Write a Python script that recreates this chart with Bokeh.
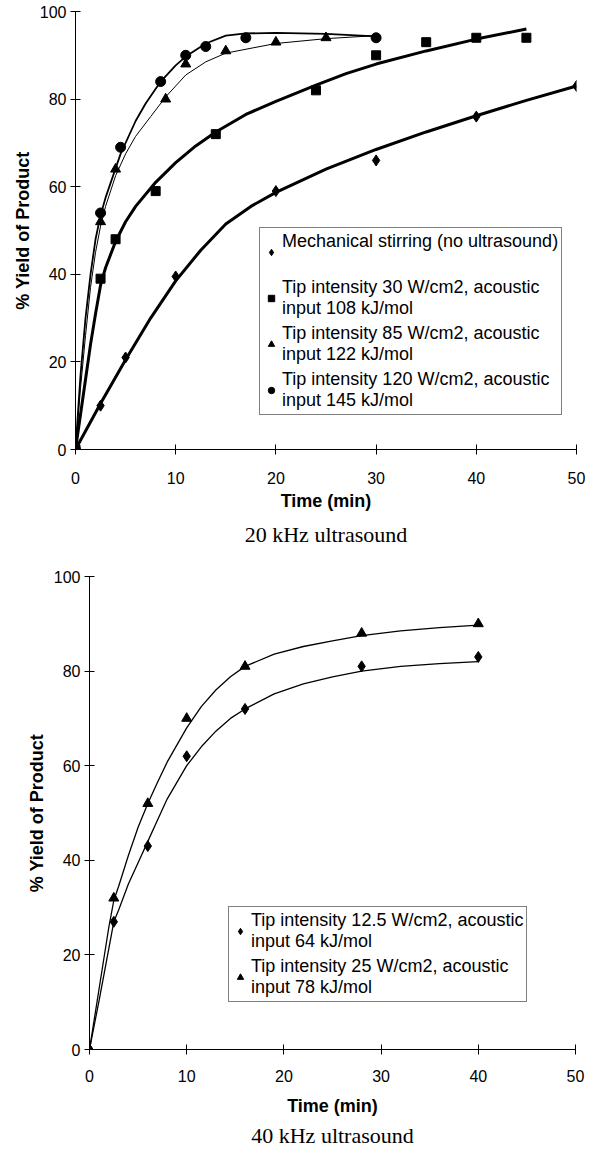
from bokeh.plotting import figure
from bokeh.models import Range1d, Legend, LegendItem, Title, FixedTicker
from bokeh.layouts import column
from bokeh.embed import file_html
from bokeh.resources import INLINE

# ---------------- 20 kHz chart (top) ----------------
x_ticks = [0, 10, 20, 30, 40, 50]
y_ticks = [0, 20, 40, 60, 80, 100]

mech_t = [0, 2.5, 5, 10, 20, 30, 40, 50]
mech_y = [0, 10, 21, 39.5, 59, 66, 76, 83]
tip30_t = [0, 2.5, 4, 8, 14, 24, 30, 35, 40, 45]
tip30_y = [0, 39, 48, 59, 72, 82, 90, 93, 94, 94]
tip85_t = [0, 2.5, 4, 9, 11, 15, 20, 25]
tip85_y = [0, 52, 64, 80, 88, 91, 93, 94]
tip120_t = [0, 2.5, 4.5, 8.5, 11, 13, 17, 30]
tip120_y = [0, 54, 69, 84, 90, 92, 94, 94]

# trend curves
mech_fit_t = [0, 2.5, 5, 7.5, 10, 12.5, 15, 17.5, 20, 25, 30, 35, 40, 45, 50]
mech_fit_y = [0, 10.5, 20.5, 30, 38.5, 45.5, 51.5, 55.5, 58.7, 64, 68.5, 72.5, 76.2, 79.7, 83]
tip30_fit_t = [0, 0.5, 1, 1.5, 2, 2.5, 3, 4, 5, 6, 8, 10, 12, 14, 17, 20, 24, 27, 30, 35, 40, 45]
tip30_fit_y = [0, 8, 16, 24, 31, 37.5, 41.5, 47.5, 52, 55.5, 61, 65.5, 69.3, 72.5, 76.5, 79.5,
               83.2, 85.8, 88, 91, 93.7, 96]
tip85_fit_t = [0, 0.5, 1, 1.5, 2, 2.5, 3, 4, 5, 6, 7.5, 9, 11, 13, 15, 20, 25, 30]
tip85_fit_y = [0, 14, 26, 37, 45, 51, 55.5, 62.5, 67.5, 71.5, 76, 80.5, 85.5, 88.5, 90.5,
               92.7, 93.8, 94.5]
tip120_fit_t = [0, 0.5, 1, 1.5, 2, 2.5, 3, 4.5, 6, 7, 8.5, 10, 11, 13, 15, 17, 20, 25, 30]
tip120_fit_y = [0, 17, 30, 40, 48, 53.5, 57.5, 67.5, 75, 79, 84, 87.7, 89.7, 92.7, 94.5, 95,
                95.1, 94.9, 94.3]

top_labels = [
    "Mechanical stirring (no ultrasound)\n ",
    "Tip intensity 30 W/cm2, acoustic\ninput 108 kJ/mol",
    "Tip intensity 85 W/cm2, acoustic\ninput 122 kJ/mol",
    "Tip intensity 120 W/cm2, acoustic\ninput 145 kJ/mol",
]

# ---------------- 40 kHz chart (bottom) ----------------
b125_t = [0, 2.5, 6, 10, 16, 28, 40]
b125_y = [0, 27, 43, 62, 72, 81, 83]
b25_t = [0, 2.5, 6, 10, 16, 28, 40]
b25_y = [0, 32, 52, 70, 81, 88, 90]

b125_fit_t = [0, 1, 2, 2.5, 3, 4, 5, 6, 7, 8, 10, 11.5, 13, 14.5, 16, 19, 22, 25, 28, 32, 36, 40]
b125_fit_y = [0, 10.5, 21.5, 27, 29.5, 35, 39.5, 44, 48.5, 53, 60, 64, 67.3, 70, 72, 75.2,
              77.3, 78.8, 80, 81, 81.6, 82]
b25_fit_t = [0, 1, 2, 2.5, 3, 4, 5, 6, 7, 8, 10, 11.5, 13, 14.5, 16, 19, 22, 25, 28, 32, 36, 40]
b25_fit_y = [0, 13, 26, 31.5, 34.5, 41, 47, 52, 56.5, 60.8, 68, 72.5, 76, 78.8, 81, 83.6,
             85.2, 86.4, 87.5, 88.5, 89.2, 89.7]

bottom_labels = [
    "Tip intensity 12.5 W/cm2, acoustic\ninput 64 kJ/mol",
    "Tip intensity 25 W/cm2, acoustic\ninput 78 kJ/mol",
]

SANS = "Liberation Sans"
SERIF = "Liberation Serif"


def style(p, caption, lab_standoff, ax_standoff, cap_standoff):
    try:
        p.frame_align = False
    except Exception:
        pass
    p.x_range = Range1d(0, 50)
    p.y_range = Range1d(0, 100)
    p.xaxis.ticker = FixedTicker(ticks=x_ticks)
    p.yaxis.ticker = FixedTicker(ticks=y_ticks)
    for ax in (p.xaxis, p.yaxis):
        ax.major_tick_in = 5
        ax.major_tick_out = 5
        ax.minor_tick_line_color = None
        ax.axis_line_color = "black"
        ax.major_tick_line_color = "black"
        ax.major_label_text_font = SANS
        ax.major_label_text_font_size = "16px"
        ax.major_label_text_color = "black"
        ax.axis_label_text_font = SANS
        ax.axis_label_text_font_size = "18px"
        ax.axis_label_text_font_style = "bold"
        ax.axis_label_text_color = "black"
    p.xaxis.axis_label = "Time (min)"
    p.yaxis.axis_label = "% Yield of Product"
    p.xaxis.major_label_standoff = lab_standoff
    p.yaxis.major_label_standoff = 4
    p.xaxis.axis_label_standoff = ax_standoff
    p.yaxis.axis_label_standoff = 4
    p.xgrid.visible = False
    p.ygrid.visible = False
    p.outline_line_color = None
    p.background_fill_color = "white"
    p.border_fill_color = "white"
    t = Title(text=caption, align="center", text_font=SERIF,
              text_font_size="22px", text_font_style="normal",
              text_color="black", standoff=cap_standoff)
    p.add_layout(t, "below")


def legend_style(lg):
    lg.label_text_font = SANS
    lg.label_text_font_size = "18px"
    lg.label_text_color = "black"
    lg.label_text_line_height = 1.06
    lg.glyph_width = 16
    lg.glyph_height = 20
    lg.label_standoff = 3
    lg.padding = 3
    lg.spacing = 4
    lg.margin = 0
    lg.border_line_color = "black"
    lg.border_line_width = 1
    lg.background_fill_color = "white"
    lg.background_fill_alpha = 1.0


# ---- top figure ----
p1 = figure(width=587, height=554, output_backend="svg", toolbar_location=None,
            min_border_left=75, min_border_right=11, min_border_top=11,
            min_border_bottom=105)
style(p1, "20 kHz ultrasound", 17, 4, 12)

p1.line(mech_fit_t, mech_fit_y, line_color="black", line_width=3)
p1.line(tip30_fit_t, tip30_fit_y, line_color="black", line_width=3)
p1.line(tip85_fit_t, tip85_fit_y, line_color="black", line_width=1)
p1.line(tip120_fit_t, tip120_fit_y, line_color="black", line_width=1.8)

r_m = p1.scatter(mech_t, mech_y, marker="diamond", size=11, color="black")
r_s = p1.scatter(tip30_t, tip30_y, marker="square", size=9, color="black")
r_t = p1.scatter(tip85_t, tip85_y, marker="triangle", size=10, color="black")
r_c = p1.scatter(tip120_t, tip120_y, marker="circle", size=10, color="black")

lg1 = Legend(items=[LegendItem(label=top_labels[0], renderers=[r_m]),
                    LegendItem(label=top_labels[1], renderers=[r_s]),
                    LegendItem(label=top_labels[2], renderers=[r_t]),
                    LegendItem(label=top_labels[3], renderers=[r_c])],
             location=(184, 34))
legend_style(lg1)
p1.add_layout(lg1)

# ---- bottom figure ----
p2 = figure(width=587, height=595, output_backend="svg", toolbar_location=None,
            min_border_left=89, min_border_right=12, min_border_top=22,
            min_border_bottom=99)
style(p2, "40 kHz ultrasound", 15, 11, 4)

p2.line(b125_fit_t, b125_fit_y, line_color="black", line_width=1.3)
p2.line(b25_fit_t, b25_fit_y, line_color="black", line_width=1.3)
r_d = p2.scatter(b125_t, b125_y, marker="diamond", size=11, color="black")
r_tr = p2.scatter(b25_t, b25_y, marker="triangle", size=10, color="black")

lg2 = Legend(items=[LegendItem(label=bottom_labels[0], renderers=[r_d]),
                    LegendItem(label=bottom_labels[1], renderers=[r_tr])],
             location=(139, 47))
legend_style(lg2)
p2.add_layout(lg2)

layout = column(p1, p2, spacing=0)
open("out.html", "w").write(file_html(layout, INLINE))
